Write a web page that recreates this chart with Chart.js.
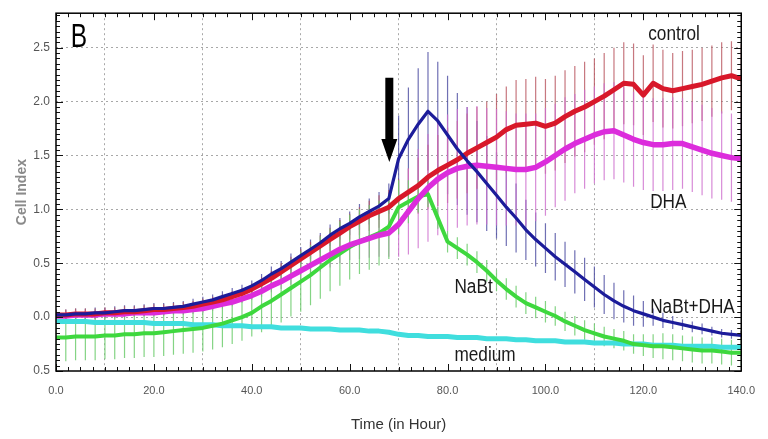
<!DOCTYPE html>
<html><head><meta charset="utf-8">
<script src="https://cdn.jsdelivr.net/npm/chart.js@4.4.0/dist/chart.umd.min.js"></script>
<style>html,body{margin:0;padding:0;background:#fff;}#wrap{width:768px;height:439px;}</style>
</head><body><div id="wrap"><canvas id="c" width="768" height="439"></canvas></div>
<script>
// ---- data (time in hours, Cell Index) ----
const hours = [0,2,4,6,8,10,12,14,16,18,20,22,24,26,28,30,32,34,36,38,40,42,44,46,48,50,52,54,56,58,60,62,64,66,68,70,72,74,76,78,80,82,84,86,88,90,92,94,96,98,100,102,104,106,108,110,112,114,116,118,120,122,124,126,128,130,132,134,136,138,140];

const control = [0.02,0.02,0.03,0.03,0.03,0.04,0.04,0.05,0.05,0.06,
  0.07,0.07,0.08,0.09,0.10,0.12,0.14,0.16,0.19,0.22,
  0.26,0.31,0.36,0.42,0.48,0.54,0.60,0.66,0.72,0.78,
  0.84,0.89,0.94,0.98,1.02,1.10,1.16,1.22,1.30,1.36,
  1.41,1.46,1.52,1.57,1.62,1.67,1.74,1.78,1.79,1.80,
  1.77,1.80,1.86,1.91,1.95,2.00,2.05,2.11,2.17,2.16,
  2.06,2.17,2.12,2.10,2.12,2.14,2.16,2.19,2.22,2.24,
  2.21];
const controlErr = [0.05,0.05,0.05,0.05,0.05,0.05,0.05,0.05,0.05,0.05,
  0.05,0.05,0.05,0.05,0.05,0.05,0.05,0.05,0.05,0.05,
  0.05,0.06,0.07,0.08,0.08,0.09,0.10,0.10,0.11,0.12,
  0.12,0.13,0.14,0.15,0.16,0.18,0.22,0.26,0.30,0.33,
  0.35,0.36,0.37,0.38,0.38,0.40,0.40,0.42,0.42,0.43,
  0.44,0.44,0.43,0.42,0.42,0.40,0.40,0.39,0.38,0.38,
  0.37,0.36,0.36,0.35,0.35,0.34,0.34,0.33,0.33,0.32,
  0.32];

const dha = [0.01,0.01,0.02,0.02,0.02,0.03,0.03,0.03,0.04,0.04,
  0.04,0.05,0.06,0.06,0.07,0.08,0.10,0.12,0.14,0.17,
  0.20,0.24,0.29,0.33,0.38,0.43,0.48,0.53,0.58,0.63,
  0.67,0.70,0.73,0.76,0.78,0.86,0.98,1.10,1.20,1.28,
  1.34,1.38,1.40,1.41,1.40,1.39,1.38,1.37,1.37,1.39,
  1.44,1.50,1.56,1.61,1.65,1.69,1.72,1.73,1.69,1.65,
  1.62,1.60,1.60,1.61,1.61,1.58,1.55,1.52,1.50,1.48,
  1.47];
const dhaErr = [0.04,0.04,0.04,0.04,0.04,0.04,0.04,0.04,0.04,0.04,
  0.04,0.04,0.04,0.04,0.04,0.04,0.04,0.04,0.04,0.04,
  0.04,0.05,0.06,0.07,0.08,0.09,0.10,0.11,0.12,0.13,
  0.14,0.16,0.18,0.20,0.22,0.30,0.40,0.46,0.50,0.52,
  0.54,0.55,0.55,0.55,0.54,0.54,0.53,0.52,0.52,0.50,
  0.50,0.48,0.48,0.46,0.46,0.45,0.45,0.45,0.44,0.44,
  0.44,0.43,0.43,0.43,0.42,0.42,0.42,0.42,0.41,0.41,
  0.41];

const nabtDha = [0.02,0.02,0.03,0.03,0.04,0.04,0.05,0.06,0.06,0.07,
  0.08,0.08,0.09,0.10,0.12,0.14,0.16,0.19,0.22,0.25,
  0.29,0.34,0.40,0.45,0.51,0.57,0.63,0.69,0.76,0.82,
  0.87,0.93,0.98,1.03,1.10,1.47,1.65,1.79,1.91,1.82,
  1.69,1.56,1.45,1.35,1.24,1.13,1.02,0.92,0.81,0.72,
  0.64,0.56,0.49,0.42,0.35,0.28,0.21,0.15,0.10,0.06,
  0.03,0.00,-0.03,-0.05,-0.07,-0.09,-0.11,-0.13,-0.15,-0.16,
  -0.17];
const nabtDhaErr = [0.05,0.05,0.05,0.05,0.05,0.05,0.05,0.05,0.05,0.05,
  0.05,0.05,0.05,0.05,0.05,0.05,0.05,0.05,0.05,0.05,
  0.05,0.06,0.07,0.07,0.08,0.08,0.09,0.09,0.10,0.10,
  0.11,0.12,0.12,0.13,0.14,0.40,0.48,0.52,0.55,0.55,
  0.55,0.52,0.50,0.47,0.44,0.40,0.36,0.32,0.28,0.25,
  0.23,0.22,0.21,0.20,0.20,0.19,0.18,0.17,0.15,0.14,
  0.12,0.08,0.07,0.06,0.05,0.05,0.05,0.04,0.04,0.04,
  0.04];

const nabt = [-0.19,-0.19,-0.18,-0.18,-0.18,-0.17,-0.17,-0.16,-0.16,-0.15,
  -0.15,-0.14,-0.13,-0.12,-0.11,-0.10,-0.08,-0.06,-0.03,0.00,
  0.04,0.10,0.15,0.21,0.27,0.33,0.39,0.46,0.53,0.59,
  0.65,0.70,0.74,0.78,0.84,1.02,1.07,1.12,1.14,0.92,
  0.70,0.64,0.58,0.51,0.43,0.34,0.26,0.19,0.13,0.09,
  0.05,0.01,-0.04,-0.08,-0.12,-0.15,-0.18,-0.20,-0.22,-0.25,
  -0.26,-0.27,-0.27,-0.28,-0.29,-0.30,-0.31,-0.31,-0.32,-0.33,
  -0.33];
const nabtErr = [0.22,0.22,0.22,0.22,0.22,0.22,0.22,0.22,0.22,0.22,
  0.22,0.22,0.22,0.22,0.22,0.22,0.22,0.22,0.22,0.22,
  0.22,0.24,0.25,0.26,0.27,0.28,0.28,0.29,0.29,0.30,
  0.30,0.30,0.30,0.30,0.30,0.25,0.20,0.15,0.12,0.10,
  0.10,0.10,0.10,0.10,0.10,0.10,0.10,0.10,0.10,0.10,
  0.10,0.09,0.09,0.09,0.09,0.09,0.09,0.09,0.09,0.09,
  0.10,0.11,0.12,0.12,0.12,0.12,0.12,0.12,0.12,0.12,
  0.12];

const medium = [-0.04,-0.04,-0.04,-0.04,-0.05,-0.05,-0.05,-0.05,-0.05,-0.05,
  -0.06,-0.06,-0.06,-0.06,-0.07,-0.07,-0.07,-0.08,-0.08,-0.08,
  -0.09,-0.09,-0.09,-0.10,-0.10,-0.10,-0.11,-0.11,-0.11,-0.12,
  -0.12,-0.12,-0.13,-0.13,-0.14,-0.16,-0.17,-0.17,-0.18,-0.18,
  -0.18,-0.19,-0.19,-0.19,-0.20,-0.20,-0.20,-0.21,-0.21,-0.22,
  -0.22,-0.22,-0.23,-0.23,-0.23,-0.24,-0.24,-0.24,-0.25,-0.25,
  -0.25,-0.26,-0.26,-0.26,-0.27,-0.27,-0.27,-0.27,-0.28,-0.28,
  -0.28];

const xTicks = [0,20,40,60,80,100,120,140];
const yTicks = [-0.5,0,0.5,1.0,1.5,2.0,2.5];
const yTickLabels = ['0.5','0.0','0.5','1.0','1.5','2.0','2.5'];

// annotations: [text, hour, cell index]
const seriesLabels = [
  ['control', 121.0, 2.57],
  ['DHA', 121.4, 1.01],
  ['NaBt+DHA', 121.4, 0.04],
  ['NaBt', 81.4, 0.22],
  ['medium', 81.4, -0.41]
];
const panelLabel = ['B', 3.0, 2.51];
const arrowMark = [68.1, 2.22, 1.44]; // hour, top, tip

// ---- chart ----
const SANS = '"Liberation Sans", Arial, sans-serif';

function errData(vals, errs) {
  return hours.map((h, i) => ({x: h, y: [vals[i] - errs[i], vals[i] + errs[i]]}));
}
function lineData(vals) {
  return hours.map((h, i) => ({x: h, y: vals[i]}));
}
function errSet(vals, errs, color) {
  return {type: 'bar', data: errData(vals, errs), backgroundColor: color, borderWidth: 0,
    grouped: false, maxBarThickness: 1.2, order: 20};
}
function lineSet(label, vals, color, w, order) {
  return {type: 'line', label, data: lineData(vals), borderColor: color, backgroundColor: color,
    borderWidth: w, pointRadius: 0, tension: 0, fill: false, order, borderCapStyle: 'round', borderJoinStyle: 'round'};
}

function narrowText(ctx, t, px, py, sx) {
  ctx.save();
  ctx.translate(px, py);
  ctx.scale(sx, 1);
  ctx.fillText(t, 0, 0);
  ctx.restore();
}

const decor = {
  id: 'decor',
  afterDraw(chart) {
    const {ctx, chartArea: a, scales: {x, y}} = chart;
    ctx.save();
    // minor ticks inside the frame
    ctx.strokeStyle = '#111'; ctx.lineWidth = 1;
    ctx.beginPath();
    for (let i = 0; i <= 56; i++) {
      const px = Math.round(x.getPixelForValue(i * 2.5)) + 0.5;
      const L = (i % 8 === 0) ? 7 : 4;
      ctx.moveTo(px, a.top); ctx.lineTo(px, a.top + L);
      ctx.moveTo(px, a.bottom); ctx.lineTo(px, a.bottom - L);
    }
    for (let i = 0; i <= 66; i++) {
      const v = -0.5 + i * 0.05;
      if (v > y.max) break;
      const py = Math.round(y.getPixelForValue(v)) + 0.5;
      const L = (i % 10 === 0) ? 7 : 4;
      ctx.moveTo(a.left, py); ctx.lineTo(a.left + L, py);
      ctx.moveTo(a.right, py); ctx.lineTo(a.right - L, py);
    }
    ctx.stroke();
    // frame
    ctx.lineWidth = 1.5; ctx.strokeStyle = '#000';
    ctx.strokeRect(a.left, a.top, a.right - a.left, a.bottom - a.top);
    // arrow
    const ax = x.getPixelForValue(arrowMark[0]);
    const yt = y.getPixelForValue(arrowMark[1]);
    const yb = y.getPixelForValue(arrowMark[2]);
    ctx.fillStyle = '#000';
    ctx.beginPath();
    ctx.moveTo(ax - 4, yt); ctx.lineTo(ax + 4, yt); ctx.lineTo(ax + 4, yb - 23);
    ctx.lineTo(ax + 8, yb - 23); ctx.lineTo(ax, yb); ctx.lineTo(ax - 8, yb - 23);
    ctx.lineTo(ax - 4, yb - 23); ctx.closePath(); ctx.fill();
    // labels
    ctx.textAlign = 'left'; ctx.textBaseline = 'alphabetic';
    ctx.fillStyle = '#1a1a1a';
    ctx.font = '20px ' + SANS;
    for (const [t, h, v] of seriesLabels) {
      narrowText(ctx, t, x.getPixelForValue(h), y.getPixelForValue(v), 0.86);
    }
    ctx.fillStyle = '#000';
    ctx.font = '34px ' + SANS;
    narrowText(ctx, panelLabel[0], x.getPixelForValue(panelLabel[1]), y.getPixelForValue(panelLabel[2]), 0.72);
    ctx.restore();
  }
};

const gridColor = (skipVals) => (ctx) => (ctx.tick && skipVals.includes(ctx.tick.value)) ? 'rgba(0,0,0,0)' : '#a8a8a8';

new Chart(document.getElementById('c'), {
  type: 'line',
  data: {
    datasets: [
      errSet(nabt, nabtErr, 'rgba(110,205,110,0.85)'),
      errSet(dha, dhaErr, 'rgba(205,110,205,0.8)'),
      errSet(control, controlErr, 'rgba(185,85,95,0.8)'),
      errSet(nabtDha, nabtDhaErr, 'rgba(75,75,160,0.8)'),
      lineSet('medium', medium, '#40dede', 5, 5),
      lineSet('NaBt', nabt, '#3ed83e', 4, 4),
      lineSet('DHA', dha, '#dc2cdc', 5.5, 3),
      lineSet('control', control, '#d8182a', 5, 2),
      lineSet('NaBt+DHA', nabtDha, '#1c1c9a', 3.2, 1)
    ]
  },
  options: {
    responsive: false,
    devicePixelRatio: 1,
    animation: false,
    layout: {padding: {top: 10, right: 13, left: 0, bottom: 0}},
    plugins: {legend: {display: false}, tooltip: {enabled: false}},
    scales: {
      x: {
        type: 'linear', min: 0, max: 140, offset: false,
        afterBuildTicks: (s) => { s.ticks = xTicks.map(v => ({value: v})); },
        afterFit: (s) => { s.height = 68; },
        grid: {color: gridColor([0, 140]), drawTicks: false, lineWidth: 1},
        border: {display: false, dash: [2, 3]},
        ticks: {padding: 13, color: '#555', font: {family: SANS, size: 11},
          callback: (v) => Number(v).toFixed(1), maxRotation: 0, autoSkip: false},
        title: {display: true, text: 'Time (in Hour)', color: '#333',
          font: {family: SANS, size: 15}, padding: {top: 0, bottom: 5}}
      },
      y: {
        type: 'linear', min: -0.5, max: 2.82,
        afterBuildTicks: (s) => { s.ticks = yTicks.map(v => ({value: v})); },
        afterFit: (s) => { s.width = 56; },
        grid: {color: gridColor([-0.5]), drawTicks: false, lineWidth: 1},
        border: {display: false, dash: [2, 3]},
        ticks: {padding: 6, color: '#555', font: {family: SANS, size: 12},
          callback: (v) => { const i = yTicks.indexOf(Number(v)); return i >= 0 ? yTickLabels[i] : ''; }},
        title: {display: true, text: 'Cell Index', color: '#8a8a8a',
          font: {family: SANS, size: 14, weight: 'bold'}, padding: {top: 14, bottom: 0}}
      }
    }
  },
  plugins: [decor]
});
</script>
</body></html>
